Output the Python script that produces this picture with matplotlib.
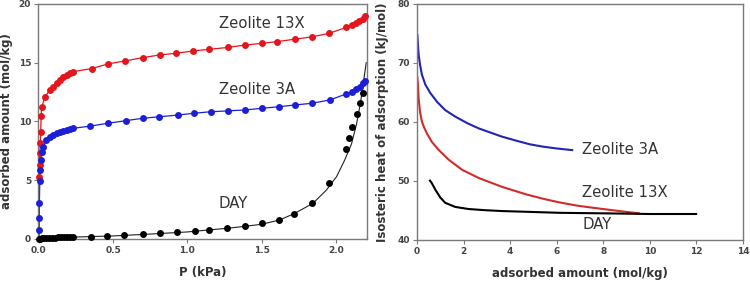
import matplotlib
matplotlib.use("Agg")
import matplotlib.pyplot as plt

# --- left panel: isotherms (P in kPa, q in mol/kg) ---
p_13x = [0.002, 0.004, 0.006, 0.009, 0.012, 0.015, 0.018, 0.04, 0.074, 0.096, 0.119, 0.14,
         0.164, 0.186, 0.209, 0.231, 0.355, 0.467, 0.58, 0.698, 0.815, 0.923, 1.04, 1.147,
         1.275, 1.387, 1.504, 1.607, 1.724, 1.84, 1.955, 2.07, 2.106, 2.135, 2.157, 2.18, 2.197]
q_13x = [5.3, 6.3, 7.3, 8.2, 9.1, 10.5, 11.2, 12.06, 12.7, 12.96, 13.25, 13.5,
         13.76, 13.96, 14.1, 14.24, 14.5, 14.9, 15.15, 15.43, 15.66, 15.8, 16.0, 16.14,
         16.3, 16.5, 16.65, 16.8, 17.0, 17.2, 17.5, 18.0, 18.2, 18.4, 18.55, 18.75, 19.0]

p_3a = [0.001, 0.002, 0.003, 0.006, 0.008, 0.012, 0.018, 0.03, 0.05, 0.074, 0.096, 0.12,
        0.14, 0.164, 0.186, 0.209, 0.231, 0.343, 0.467, 0.586, 0.698, 0.81, 0.94, 1.046,
        1.158, 1.275, 1.387, 1.504, 1.618, 1.724, 1.84, 1.96, 2.07, 2.106, 2.135, 2.16,
        2.18, 2.197]
q_3a = [0.77, 1.76, 3.04, 4.9, 5.9, 6.7, 7.4, 7.86, 8.4, 8.7, 8.85, 9.0,
        9.13, 9.2, 9.28, 9.36, 9.42, 9.6, 9.85, 10.07, 10.27, 10.4, 10.55, 10.7,
        10.83, 10.9, 10.98, 11.12, 11.26, 11.4, 11.55, 11.83, 12.34, 12.5, 12.74, 12.96,
        13.25, 13.47]

p_day = [0.0, 0.01, 0.02, 0.03, 0.05, 0.07, 0.09, 0.11, 0.13, 0.15, 0.17, 0.19, 0.21, 0.23,
         0.35, 0.46, 0.57, 0.698, 0.815, 0.927, 1.05, 1.147, 1.27, 1.387, 1.5, 1.616, 1.72,
         1.84, 1.953, 2.067, 2.088, 2.11, 2.14, 2.16, 2.185]
q_day = [0.0, 0.03, 0.05, 0.07, 0.09, 0.1, 0.11, 0.12, 0.13, 0.14, 0.15, 0.16, 0.17, 0.18,
         0.2, 0.26, 0.31, 0.4, 0.51, 0.6, 0.68, 0.8, 0.97, 1.1, 1.33, 1.64, 2.1,
         3.04, 4.8, 7.63, 8.57, 9.56, 10.6, 11.55, 12.4]

# fitted curves
fit_p_13x = [0.0] + p_13x
fit_q_13x = [0.0] + q_13x
fit_p_3a = [0.0] + p_3a
fit_q_3a = [0.0] + q_3a
fit_p_day = [0.0, 0.1, 0.25, 0.5, 0.75, 1.0, 1.3, 1.5, 1.623, 1.724, 1.847, 1.937, 2.005,
             2.06, 2.106, 2.14, 2.166, 2.185, 2.205]
fit_q_day = [0.0, 0.1, 0.17, 0.26, 0.42, 0.6, 0.95, 1.25, 1.62, 2.19, 3.04, 4.17, 5.3,
             6.72, 8.1, 9.8, 11.55, 13.25, 15.0]

# --- right panel: isosteric heat (kJ/mol) vs loading (mol/kg) ---
n_3a = [0.013, 0.04, 0.07, 0.13, 0.21, 0.36, 0.57, 0.86, 1.21, 1.64, 2.15, 2.65, 3.22,
        3.65, 4.28, 4.85, 5.42, 6.0, 6.71]
h_3a = [74.9, 73.05, 71.4, 69.7, 68.0, 66.3, 64.9, 63.4, 62.0, 60.9, 59.8, 58.9, 58.1,
        57.5, 56.8, 56.2, 55.8, 55.5, 55.2]
n_13x = [0.013, 0.04, 0.07, 0.13, 0.21, 0.29, 0.43, 0.64, 0.93, 1.36, 1.93, 2.65, 3.65,
         4.71, 5.5, 6.14, 6.9, 7.57, 8.28, 9.0, 9.57]
h_13x = [67.7, 66.3, 64.0, 61.7, 60.05, 59.2, 58.0, 56.6, 55.25, 53.6, 51.9, 50.5, 49.0,
         47.7, 46.9, 46.35, 45.8, 45.45, 45.1, 44.75, 44.5]
n_day = [0.53, 0.64, 0.79, 1.0, 1.21, 1.64, 2.2, 2.9, 3.65, 4.5, 6.14, 8.28, 10.0, 12.03]
h_day = [50.2, 49.6, 48.5, 47.2, 46.3, 45.6, 45.25, 45.05, 44.9, 44.8, 44.6, 44.5, 44.4, 44.4]

RED = "#e3161d"
BLUE = "#1c1fd6"
TXT = "#333333"
TICK = "#444444"

fig = plt.figure(figsize=(7.5, 2.82), dpi=100)
ax1 = fig.add_axes([0.0507, 0.1525, 0.4386, 0.8335])
ax2 = fig.add_axes([0.556, 0.149, 0.4347, 0.8375])


def style_axis(ax):
    for s in ax.spines.values():
        s.set_color("#7a7a7a")
        s.set_linewidth(1.0)
    ax.tick_params(direction="out", length=3, width=0.8, colors="#7a7a7a",
                   labelcolor=TICK, labelsize=6.5, pad=2)
    for lab in ax.get_xticklabels() + ax.get_yticklabels():
        lab.set_fontweight("bold")


# left panel
ax1.plot(fit_p_13x, fit_q_13x, color=RED, lw=0.9, zorder=2)
ax1.plot(fit_p_3a, fit_q_3a, color=BLUE, lw=0.9, zorder=2)
ax1.plot(fit_p_day, fit_q_day, color="#222222", lw=0.8, zorder=2)
ax1.plot(p_13x, q_13x, "o", color=RED, ms=5.0, mec="none", zorder=3, clip_on=False)
ax1.plot(p_3a, q_3a, "o", color=BLUE, ms=5.0, mec="none", zorder=3, clip_on=False)
ax1.plot(p_day, q_day, "o", color="black", ms=5.0, mec="none", zorder=3, clip_on=False)
ax1.set_xlim(-0.006, 2.21)
ax1.set_ylim(0, 20)
ax1.set_xticks([0.0, 0.5, 1.0, 1.5, 2.0])
ax1.set_xticklabels(["0.0", "0.5", "1.0", "1.5", "2.0"])
ax1.set_yticks([0, 5, 10, 15, 20])
ax1.set_xlabel("P (kPa)", fontsize=8.5, fontweight="bold", color=TXT, labelpad=8)
ax1.set_ylabel("adsorbed amount (mol/kg)", fontsize=8.5, fontweight="bold", color=TXT, labelpad=4)
ax1.text(1.21, 18.35, "Zeolite 13X", fontsize=10.7, color=TXT, va="center")
ax1.text(1.21, 12.75, "Zeolite 3A", fontsize=10.7, color=TXT, va="center")
ax1.text(1.21, 3.05, "DAY", fontsize=10.7, color=TXT, va="center")
style_axis(ax1)

# right panel
ax2.plot(n_13x, h_13x, color="#d42a2a", lw=1.5, solid_capstyle="butt")
ax2.plot(n_day, h_day, color="black", lw=1.5, solid_capstyle="butt")
ax2.plot(n_3a, h_3a, color="#2323b4", lw=1.5, solid_capstyle="butt")
ax2.set_xlim(0, 14)
ax2.set_ylim(40, 80)
ax2.set_xticks(range(0, 15, 2))
ax2.set_yticks([40, 50, 60, 70, 80])
ax2.set_xlabel("adsorbed amount (mol/kg)", fontsize=8.5, fontweight="bold", color=TXT, labelpad=8)
ax2.set_ylabel("Isosteric heat of adsorption (kJ/mol)", fontsize=8.5, fontweight="bold",
               color=TXT, labelpad=6)
ax2.text(7.1, 55.3, "Zeolite 3A", fontsize=10.7, color=TXT, va="center")
ax2.text(7.1, 48.0, "Zeolite 13X", fontsize=10.7, color=TXT, va="center")
ax2.text(7.1, 42.6, "DAY", fontsize=10.7, color=TXT, va="center")
style_axis(ax2)

fig.savefig("out.png", dpi=100)
